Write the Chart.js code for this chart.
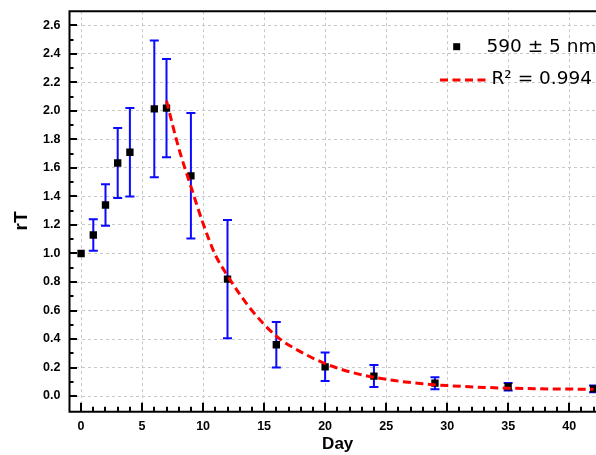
<!DOCTYPE html>
<html>
<head>
<meta charset="utf-8">
<script src="https://cdn.jsdelivr.net/npm/chart.js@4/dist/chart.umd.min.js"></script>
<style>
  html, body { margin: 0; padding: 0; background: #ffffff; overflow: hidden; }
  #wrap { width: 596px; height: 455px; position: relative; }
</style>
</head>
<body>
<div id="wrap"><canvas id="c"></canvas></div>
<script>
// ---- data ----
const days   = [0, 1, 2, 3, 4, 6, 7, 9, 12, 16, 20, 24, 29, 35, 42];
const rT     = [1.00, 1.13, 1.34, 1.635, 1.71, 2.015, 2.02, 1.545, 0.82, 0.36, 0.205, 0.14, 0.09, 0.065, 0.05];
const rTErr  = [0, 0.11, 0.145, 0.245, 0.31, 0.48, 0.345, 0.44, 0.415, 0.16, 0.10, 0.077, 0.042, 0.026, 0.023];

const fitDays = [7, 8, 9, 10, 11, 12, 13, 14, 16, 18, 20, 22, 25, 28, 30, 35, 42];
const fitVals = [2.07, 1.74, 1.47, 1.21, 0.99, 0.845, 0.715, 0.60, 0.42, 0.31, 0.228, 0.17, 0.117, 0.086, 0.073, 0.055, 0.047];

const seriesLabel = '590 \u00B1 5 nm';
const fitLabel = 'R\u00B2 = 0.994';
const xTitle = 'Day';
const yTitle = 'rT';

const FONT = '"Liberation Sans", Arial, sans-serif';
const LEGEND_FONT = '"DejaVu Sans", sans-serif';

const scatterPts = days.map((d, i) => ({ x: d, y: rT[i] }));
const fitPts = fitDays.map((d, i) => ({ x: d, y: fitVals[i] }));

function noPad(s) {
  s.paddingTop = 0; s.paddingBottom = 0; s.paddingLeft = 0; s.paddingRight = 0;
}

const decorPlugin = {
  id: 'decor',
  beforeDatasetsDraw(chart) {
    const ctx = chart.ctx, xs = chart.scales.x, ys = chart.scales.y;
    ctx.save();
    ctx.strokeStyle = '#0a0aff';
    ctx.lineWidth = 2;
    days.forEach((d, i) => {
      const e = rTErr[i];
      if (!e) return;
      const px = xs.getPixelForValue(d);
      const yt = ys.getPixelForValue(rT[i] + e);
      const yb = ys.getPixelForValue(rT[i] - e);
      ctx.beginPath();
      ctx.moveTo(px, yt); ctx.lineTo(px, yb);
      ctx.moveTo(px - 4.5, yt); ctx.lineTo(px + 4.5, yt);
      ctx.moveTo(px - 4.5, yb); ctx.lineTo(px + 4.5, yb);
      ctx.stroke();
    });
    ctx.restore();
  },
  afterDraw(chart) {
    const ctx = chart.ctx, xs = chart.scales.x, ys = chart.scales.y;
    const a = chart.chartArea;
    ctx.save();
    // frame lines
    ctx.strokeStyle = '#000';
    ctx.lineWidth = 2;
    ctx.beginPath();
    ctx.moveTo(a.left, a.top); ctx.lineTo(a.right + 2, a.top);
    ctx.moveTo(a.left, a.top - 1); ctx.lineTo(a.left, a.bottom + 1);
    ctx.moveTo(a.left - 1, a.bottom); ctx.lineTo(a.right + 2, a.bottom);
    ctx.stroke();
    // inward ticks
    ctx.lineWidth = 2;
    ctx.beginPath();
    for (let d = 0; d <= 45; d++) {
      const px = xs.getPixelForValue(d);
      if (px < a.left || px > a.right + 2) continue;
      const len = d % 5 === 0 ? 9 : 5;
      ctx.moveTo(Math.round(px), a.bottom);
      ctx.lineTo(Math.round(px), a.bottom - len);
    }
    for (let i = 0; i <= 26; i++) {
      const py = ys.getPixelForValue(i / 10);
      const len = i % 2 === 0 ? 7.5 : 4;
      ctx.moveTo(a.left, Math.round(py));
      ctx.lineTo(a.left + len, Math.round(py));
    }
    ctx.stroke();

    // legend
    const ds0 = chart.data.datasets[1];
    const ds1 = chart.data.datasets[0];
    ctx.fillStyle = '#000';
    ctx.fillRect(453.2, 43.2, 7, 7);
    ctx.font = '18.5px ' + LEGEND_FONT;
    ctx.textBaseline = 'middle';
    ctx.textAlign = 'left';
    ctx.fillText(ds0.label, 486.5, 47);
    ctx.strokeStyle = '#ff0000';
    ctx.lineWidth = 3;
    ctx.setLineDash([8, 4.5]);
    ctx.beginPath();
    ctx.moveTo(440, 80); ctx.lineTo(490, 80);
    ctx.stroke();
    ctx.setLineDash([]);
    ctx.fillStyle = '#000';
    ctx.fillText(ds1.label, 491.5, 79.5);

    // axis titles
    ctx.font = 'bold 17px ' + FONT;
    ctx.textAlign = 'center';
    ctx.textBaseline = 'middle';
    ctx.fillText(xTitle, 337.7, 444);
    ctx.save();
    ctx.translate(22, 221);
    ctx.rotate(-Math.PI / 2);
    ctx.font = 'bold 19px ' + FONT;
    ctx.fillText(yTitle, 0, 0);
    ctx.restore();
    ctx.restore();
  }
};

new Chart(document.getElementById('c'), {
  type: 'scatter',
  data: {
    datasets: [
      {
        type: 'line',
        label: fitLabel,
        data: fitPts,
        borderColor: '#ff0000',
        borderWidth: 3,
        borderDash: [8, 4.5],
        pointRadius: 0,
        fill: false,
        cubicInterpolationMode: 'monotone',
        showLine: true
      },
      {
        label: seriesLabel,
        data: scatterPts,
        pointStyle: 'rect',
        pointRadius: 5.2,
        pointBackgroundColor: '#000',
        pointBorderColor: '#000',
        pointBorderWidth: 0,
        showLine: false
      }
    ]
  },
  options: {
    responsive: true,
    maintainAspectRatio: false,
    animation: false,
    events: [],
    layout: { autoPadding: false, padding: { left: 0, top: 11.2, right: 0, bottom: 0 } },
    plugins: {
      legend: { display: false },
      tooltip: { enabled: false }
    },
    scales: {
      x: {
        type: 'linear',
        min: -0.95,
        max: 42.2,
        afterFit: s => { s.height = 43.3; noPad(s); },
        border: { display: false, dash: [3, 3] },
        grid: { color: '#c8c8c8', lineWidth: 1, drawTicks: false },
        ticks: {
          stepSize: 5,
          includeBounds: false,
          padding: 7,
          color: '#000',
          font: { family: FONT, size: 12.5, weight: 'bold' },
          callback: v => String(Math.round(v))
        }
      },
      y: {
        type: 'linear',
        min: -0.11,
        max: 2.7,
        afterFit: s => { s.width = 69.5; noPad(s); },
        border: { display: false, dash: [3, 3] },
        grid: { color: '#c8c8c8', lineWidth: 1, drawTicks: false },
        ticks: {
          stepSize: 0.2,
          includeBounds: false,
          padding: 9,
          color: '#000',
          font: { family: FONT, size: 12.5, weight: 'bold' },
          callback: v => Number(v).toFixed(1)
        }
      }
    }
  },
  plugins: [decorPlugin]
});
</script>
</body>
</html>
